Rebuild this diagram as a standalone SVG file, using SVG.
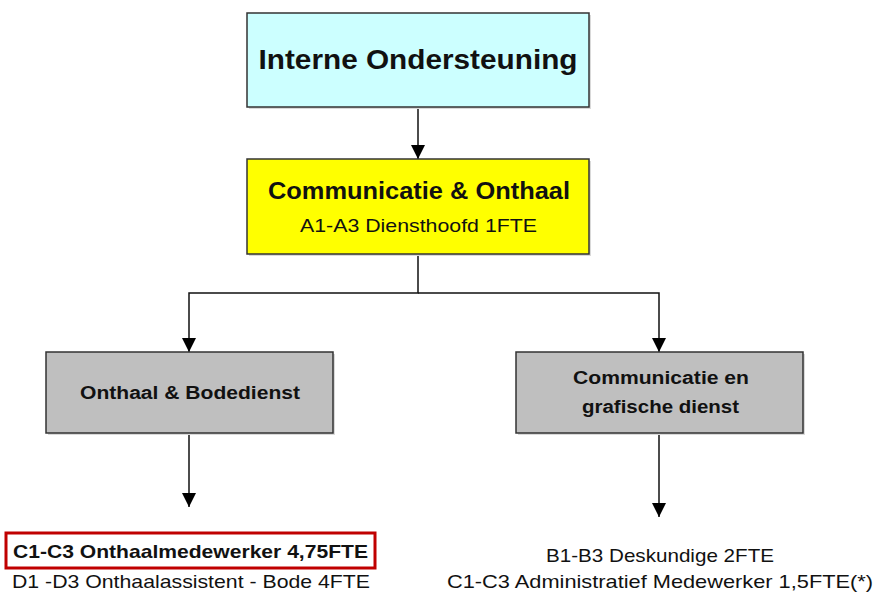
<svg xmlns="http://www.w3.org/2000/svg" width="879" height="594" viewBox="0 0 879 594">
<style>
  .box { stroke: #333333; stroke-width: 1.5; }
  .shadow { fill: #d9d9d9; }
  .t { font-family: "Liberation Sans", Arial, sans-serif; fill: #111111; text-anchor: middle; }
  .b { font-weight: bold; }
  .conn { fill: none; stroke: #111111; stroke-width: 1.5; }
</style>
<defs>
  <marker id="arrL" viewBox="0 0 14 14" refX="14" refY="7" markerWidth="14" markerHeight="14" markerUnits="userSpaceOnUse" orient="auto">
    <path d="M0,0 L14,7 L0,14 Z" fill="#000000"/>
  </marker>
</defs>
<rect width="879" height="594" fill="#ffffff"/>

<g id="connectors">
  <path class="conn" d="M418,107 V159" marker-end="url(#arrL)"/>
  <path class="conn" d="M418,254 V293 H189 V352" marker-end="url(#arrL)"/>
  <path class="conn" d="M418,293 H659 V352" marker-end="url(#arrL)"/>
  <path class="conn" d="M189,433 V507" marker-end="url(#arrL)"/>
  <path class="conn" d="M659,433 V517" marker-end="url(#arrL)"/>
</g>

<g id="interne-ondersteuning">
  <rect class="shadow" x="249" y="15" width="342" height="94"/>
  <rect class="box" x="247" y="13" width="342" height="94" fill="#ccffff"/>
  <text class="t b" x="418" y="69" font-size="27" textLength="319" lengthAdjust="spacingAndGlyphs">Interne Ondersteuning</text>
</g>

<g id="communicatie-onthaal">
  <rect class="shadow" x="249" y="161" width="342" height="95"/>
  <rect class="box" x="247" y="159" width="342" height="95" fill="#ffff00"/>
  <text class="t b" x="419" y="199" font-size="23" textLength="302" lengthAdjust="spacingAndGlyphs">Communicatie &amp; Onthaal</text>
  <text class="t" x="418.5" y="232" font-size="19" textLength="237" lengthAdjust="spacingAndGlyphs">A1-A3 Diensthoofd 1FTE</text>
</g>

<g id="onthaal-bodedienst">
  <rect class="shadow" x="48" y="354" width="287" height="81"/>
  <rect class="box" x="46" y="352" width="287" height="81" fill="#bfbfbf"/>
  <text class="t b" x="190" y="399" font-size="18" textLength="220" lengthAdjust="spacingAndGlyphs">Onthaal &amp; Bodedienst</text>
</g>

<g id="communicatie-grafische-dienst">
  <rect class="shadow" x="518" y="354" width="287" height="81"/>
  <rect class="box" x="516" y="352" width="287" height="81" fill="#bfbfbf"/>
  <text class="t b" x="661" y="384" font-size="18" textLength="176" lengthAdjust="spacingAndGlyphs">Communicatie en</text>
  <text class="t b" x="660.5" y="413" font-size="18" textLength="157" lengthAdjust="spacingAndGlyphs">grafische dienst</text>
</g>

<g id="onthaal-functies">
  <rect x="6" y="533" width="369" height="35" fill="#ffffff" stroke="#c00000" stroke-width="3"/>
  <text class="t b" x="190.5" y="558" font-size="19" textLength="355" lengthAdjust="spacingAndGlyphs">C1-C3 Onthaalmedewerker 4,75FTE</text>
  <text class="t" x="191" y="588" font-size="19" textLength="358" lengthAdjust="spacingAndGlyphs">D1 -D3 Onthaalassistent - Bode 4FTE</text>
</g>

<g id="communicatie-functies">
  <text class="t" x="660" y="562" font-size="19" textLength="228" lengthAdjust="spacingAndGlyphs">B1-B3 Deskundige 2FTE</text>
  <text class="t" x="660" y="588" font-size="19" textLength="426" lengthAdjust="spacingAndGlyphs">C1-C3 Administratief Medewerker 1,5FTE(*)</text>
</g>
</svg>
